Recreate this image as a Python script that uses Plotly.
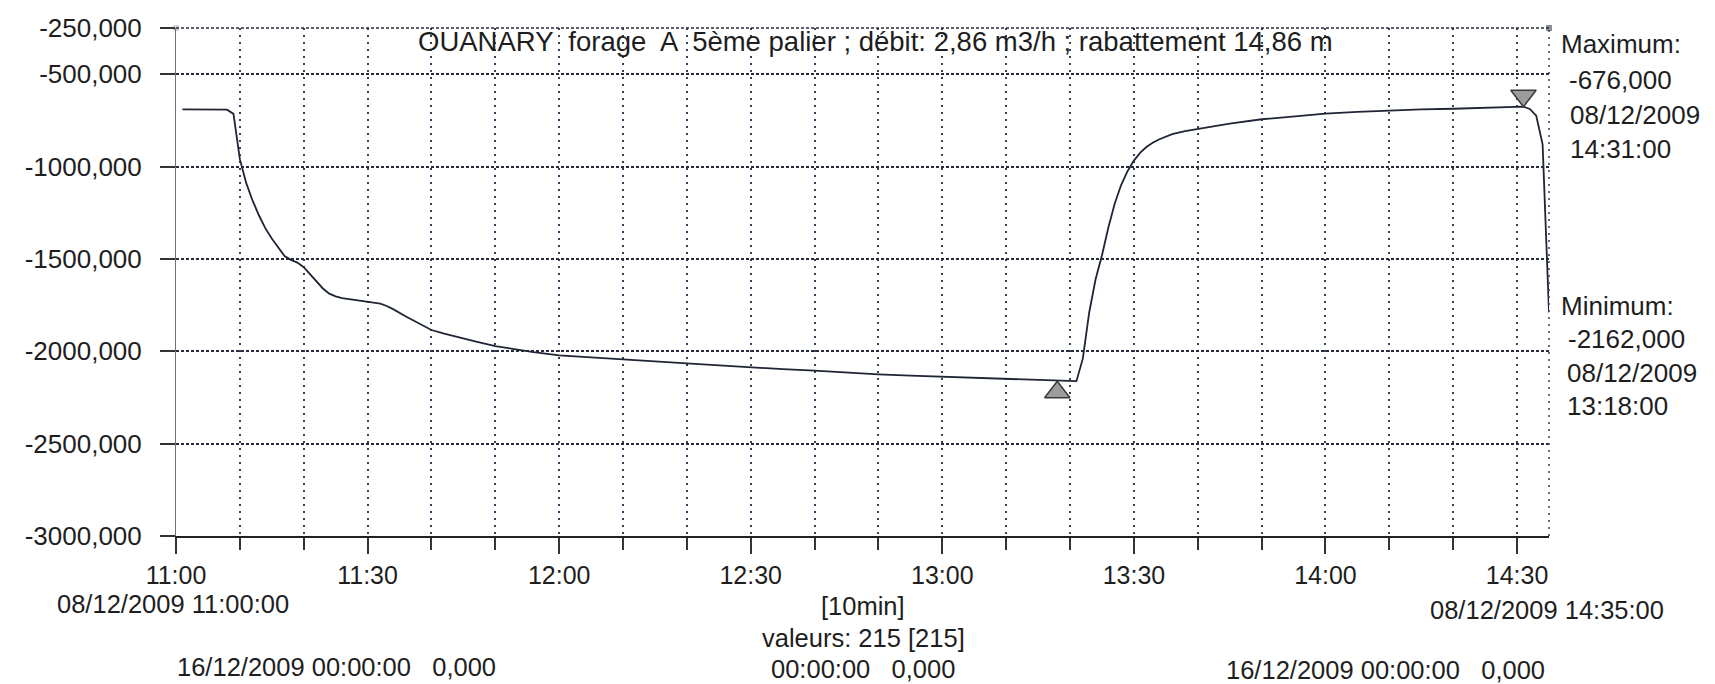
import plotly.graph_objects as go

# ---------------- data ----------------
DATE = "2009-12-08"
times = ["11:01", "11:04", "11:07", "11:08", "11:09", "11:10", "11:11", "11:12", "11:13", "11:14",
         "11:15", "11:16", "11:17", "11:18", "11:19", "11:20", "11:21", "11:22", "11:23", "11:24",
         "11:25", "11:26", "11:28", "11:30", "11:32", "11:33", "11:34", "11:36", "11:38", "11:40",
         "11:42", "11:44", "11:47", "11:50", "11:53", "11:56", "12:00", "12:05", "12:10", "12:15",
         "12:20", "12:25", "12:30", "12:35", "12:40", "12:45", "12:50", "12:55", "13:00", "13:05",
         "13:10", "13:15", "13:18", "13:21", "13:22", "13:23", "13:24", "13:25", "13:26", "13:27",
         "13:28", "13:29", "13:30", "13:31", "13:32", "13:33", "13:34", "13:36", "13:38", "13:40",
         "13:45", "13:50", "13:55", "14:00", "14:05", "14:10", "14:15", "14:20", "14:25", "14:30",
         "14:31", "14:32", "14:33", "14:34", "14:35"]
values = [-690, -690, -690, -692, -715, -960, -1090, -1185, -1265, -1335,
          -1390, -1440, -1485, -1505, -1520, -1545, -1585, -1625, -1660, -1688,
          -1703, -1712, -1722, -1730, -1742, -1755, -1772, -1812, -1850, -1885,
          -1905, -1923, -1948, -1972, -1990, -2005, -2022, -2032, -2043, -2055,
          -2066, -2077, -2088, -2097, -2105, -2116, -2125, -2132, -2138, -2144,
          -2150, -2157, -2162, -2162, -2040, -1790, -1610, -1480, -1330, -1200,
          -1100, -1025, -968, -925, -893, -870, -852, -825, -808, -796,
          -768, -744, -727, -714, -704, -697, -691, -687, -683, -679,
          -676, -688, -725, -880, -1790]

x_start, x_end = "11:00", "14:35"
y_min, y_max = -3000, -250
y_tick_vals = [-250, -500, -1000, -1500, -2000, -2500, -3000]
y_tick_text = ["-250,000", "-500,000", "-1000,000", "-1500,000", "-2000,000", "-2500,000", "-3000,000"]

title_text = "OUANARY  forage  A  5ème palier ; débit: 2,86 m3/h ; rabattement 14,86 m"
date_label = "08/12/2009"
interval_label = "[10min]"
count_label = "valeurs: 215 [215]"
left_ref_label = "16/12/2009 00:00:00   0,000"
mid_ref_label = "00:00:00   0,000"
right_ref_label = "16/12/2009 00:00:00   0,000"

# ---------------- derived ----------------
xs = [f"{DATE} {t}:00" for t in times]
i_max = max(range(len(values)), key=lambda i: values[i])
i_min = min(range(len(values)), key=lambda i: values[i])


def fmt_val(v):
    return f"{v:.3f}".replace(".", ",")


# ---------------- geometry ----------------
W_PX, H_PX = 1715, 684
L, R, T, B = 168, 174, 20, 156
PW = W_PX - L - R
PH = H_PX - T - B
units_per_px = (y_max - y_min) / PH


def px(xp):
    return (xp - L) / PW


def py(yp):
    return (H_PX - B - yp) / PH


FONT = "Liberation Sans, Arial, sans-serif"
FS = 26
TXT = "#1e1e1e"
HGRID = "#262c3a"
VGRID = "#34425e"

fig = go.Figure()
fig.add_trace(go.Scatter(
    x=xs, y=values, mode="lines",
    line=dict(color="#1f2535", width=1.8),
    showlegend=False, hoverinfo="skip"))

msize = 22
off = (msize / 2) * units_per_px
fig.add_trace(go.Scatter(
    x=[xs[i_max]], y=[values[i_max] + off], mode="markers",
    marker=dict(symbol="triangle-down", size=msize, color="#9c9c9c",
                line=dict(color="#3a3a3a", width=1.5)),
    showlegend=False, hoverinfo="skip", cliponaxis=False))
fig.add_trace(go.Scatter(
    x=[xs[i_min]], y=[values[i_min] - off], mode="markers",
    marker=dict(symbol="triangle-up", size=msize, color="#9c9c9c",
                line=dict(color="#3a3a3a", width=1.5)),
    showlegend=False, hoverinfo="skip", cliponaxis=False))
# small cursor squares at the top corners
fig.add_trace(go.Scatter(
    x=[f"{DATE} {x_start}:00", f"{DATE} {x_end}:00"], y=[y_max, y_max], mode="markers",
    marker=dict(symbol="square", size=6, color=["#d0d4dc", "#8a8f99"]),
    showlegend=False, hoverinfo="skip", cliponaxis=False))

ann = []


def add(text, xp, yp, xanchor="center", size=FS):
    ann.append(dict(text=text, x=px(xp), y=py(yp), xref="paper", yref="paper",
                    xanchor=xanchor, yanchor="middle", showarrow=False, borderpad=0,
                    font=dict(family=FONT, size=size, color=TXT)))


add(title_text, 867, 34, size=27.5)

t_max = times[i_max] + ":00"
t_min = times[i_min] + ":00"
add("Maximum:", 1552, 36, "left")
add(fmt_val(values[i_max]), 1560, 72, "left")
add(date_label, 1561, 107, "left")
add(t_max, 1561, 141, "left")
add("Minimum:", 1552, 298, "left")
add(fmt_val(values[i_min]), 1559, 331, "left")
add(date_label, 1558, 365, "left")
add(t_min, 1558, 398, "left")

add(f"{date_label} {x_start}:00", 165, 596, size=25.5)
add(f"{date_label} {x_end}:00", 1539, 602, size=25.5)
add(interval_label, 855, 598, size=25.5)
add(count_label, 855, 630, size=25.5)
add(left_ref_label, 168, 659, "left", size=25.5)
add(mid_ref_label, 855, 661, size=25.5)
add(right_ref_label, 1538, 662, "right", size=25.5)

fig.update_layout(
    width=W_PX, height=H_PX,
    margin=dict(l=L, r=R, t=T, b=B, autoexpand=False),
    paper_bgcolor="white", plot_bgcolor="white",
    annotations=ann,
    font=dict(family=FONT, size=FS, color=TXT),
    shapes=[dict(type="line", xref="paper", yref="paper", x0=1, x1=1, y0=0, y1=1,
                 line=dict(color=VGRID, width=1.5, dash="2px,5px")),
            dict(type="line", xref="paper", yref="paper", x0=0, x1=1, y0=1, y1=1,
                 line=dict(color=HGRID, width=1.5, dash="3px,2px"))],
    xaxis=dict(
        type="date",
        range=[f"{DATE} {x_start}:00", f"{DATE} {x_end}:00"],
        tick0=f"{DATE} {x_start}:00", dtick=30 * 60 * 1000,
        tickformat="%H:%M",
        showline=True, linecolor="#222222", linewidth=2,
        ticks="outside", ticklen=16, tickwidth=1.5, tickcolor="#333333",
        showgrid=True, gridcolor=VGRID, gridwidth=1.5, griddash="2px,5px",
        minor=dict(tick0=f"{DATE} {x_start}:00", dtick=10 * 60 * 1000,
                   ticks="outside", ticklen=12, tickwidth=1.5, tickcolor="#333333",
                   showgrid=True, gridcolor=VGRID, gridwidth=1.5, griddash="2px,5px"),
        zeroline=False,
        tickfont=dict(family=FONT, size=25, color=TXT),
        fixedrange=True,
    ),
    yaxis=dict(
        range=[y_min, y_max],
        tickvals=y_tick_vals, ticktext=y_tick_text,
        showline=True, linecolor="#6a7282", linewidth=1,
        ticks="outside", ticklen=15, tickwidth=1.5, tickcolor="#333333",
        showgrid=True, gridcolor=HGRID, gridwidth=1.5, griddash="3px,2px",
        zeroline=False, ticklabelstandoff=13,
        tickfont=dict(family=FONT, size=FS, color=TXT),
        fixedrange=True,
    ),
)

fig.write_html("out.html")
